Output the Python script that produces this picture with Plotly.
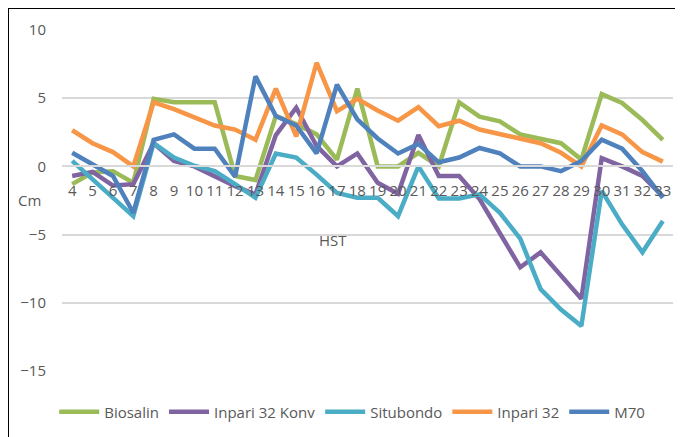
import plotly.graph_objects as go

days = [str(d) for d in range(4, 34)]

biosalin = [-1.3, -0.45, -0.35, -1.2, 4.95, 4.7, 4.7, 4.7, -0.7, -1.0,
            3.7, 3.1, 2.35, 0.5, 5.7, 0.0, 0.0, 1.0, 0.0, 4.7,
            3.65, 3.3, 2.35, 2.0, 1.7, 0.5, 5.3, 4.65, 3.4, 1.95]
inpari32_konv = [-0.7, -0.4, -1.4, -1.3, 1.7, 0.4, 0.0, -0.7, -1.45, -2.05,
                 2.3, 4.3, 1.5, 0.0, 0.95, -1.2, -2.0, 2.3, -0.7, -0.7,
                 -2.4, -4.9, -7.4, -6.3, -8.0, -9.7, 0.6, 0.0, -0.7, -2.2]
situbondo = [0.4, -0.95, -2.2, -3.65, 1.7, 0.65, 0.05, -0.35, -1.3, -2.3,
             0.95, 0.65, -0.6, -1.95, -2.3, -2.3, -3.65, 0.0, -2.35, -2.35,
             -2.05, -3.4, -5.3, -9.0, -10.5, -11.7, -1.8, -4.25, -6.3, -4.0]
inpari32 = [2.65, 1.7, 1.05, 0.0, 4.7, 4.2, 3.6, 3.0, 2.7, 1.95,
            5.7, 2.2, 7.6, 4.05, 4.95, 4.1, 3.35, 4.35, 2.95, 3.35,
            2.7, 2.35, 2.0, 1.7, 1.0, 0.0, 3.0, 2.35, 1.05, 0.35]
m70 = [1.0, 0.15, -0.7, -3.4, 1.95, 2.35, 1.3, 1.3, -0.75, 6.6,
       3.7, 3.0, 0.95, 6.0, 3.45, 2.05, 0.95, 1.65, 0.3, 0.65,
       1.35, 0.95, 0.0, 0.0, -0.35, 0.4, 1.95, 1.3, -0.35, -2.3]

series = [
    ("Biosalin", biosalin, "#9BBB59"),
    ("Inpari 32 Konv", inpari32_konv, "#8064A2"),
    ("Situbondo", situbondo, "#4BACC6"),
    ("Inpari 32", inpari32, "#F79646"),
    ("M70", m70, "#4F81BD"),
]

FONT = "Open Sans"
GRAY = "#595959"

# page body has an 8px margin; plot area spans x 62..673, y 30..371 in the window
fig = go.Figure()
for name, vals, color in series:
    fig.add_trace(go.Scatter(x=days, y=vals, name=name, mode="lines",
                             line=dict(color=color, width=4.5)))

fig.update_layout(
    width=675, height=429,
    margin=dict(l=54, r=10, t=22, b=66, autoexpand=False),
    paper_bgcolor="white", plot_bgcolor="white",
    font=dict(family=FONT, size=15, color=GRAY),
    showlegend=True,
    legend=dict(orientation="h", x=0.475, xanchor="center", y=-0.12, yanchor="middle",
                itemwidth=40,
                font=dict(family=FONT, size=15, color=GRAY), bgcolor="rgba(0,0,0,0)"),
    xaxis=dict(type="category", range=[-0.5, 29.5], anchor="free", position=0.6,
               showline=True, linecolor="#D9D9D9", linewidth=1.5,
               showgrid=False, ticks="", ticklabelstandoff=11,
               tickfont=dict(family=FONT, size=15, color=GRAY)),
    yaxis=dict(range=[-15, 10], dtick=5, showgrid=True, gridcolor="#D9D9D9", gridwidth=1.5,
               zeroline=False, showline=False, ticks="", ticklabelstandoff=15,
               tickfont=dict(family=FONT, size=15, color=GRAY)),
    annotations=[
        dict(text="Cm", x=(29 - 62) / 611, y=(371 - 200) / 341, xref="paper", yref="paper",
             xanchor="center", yanchor="middle",
             showarrow=False, font=dict(family=FONT, size=15, color=GRAY)),
        dict(text="HST", x=(333 - 62) / 611, y=(371 - 240) / 341, xref="paper", yref="paper",
             xanchor="center", yanchor="middle",
             showarrow=False, font=dict(family=FONT, size=15, color=GRAY)),
    ],
    shapes=[
        dict(type="rect", xref="paper", yref="paper",
             x0=(8 - 62) / 611, x1=(720 - 62) / 611,
             y0=(371 - 470) / 341, y1=(371 - 8) / 341,
             line=dict(color="black", width=2), fillcolor="rgba(0,0,0,0)", layer="above"),
    ],
)

fig.write_html("out.html")
